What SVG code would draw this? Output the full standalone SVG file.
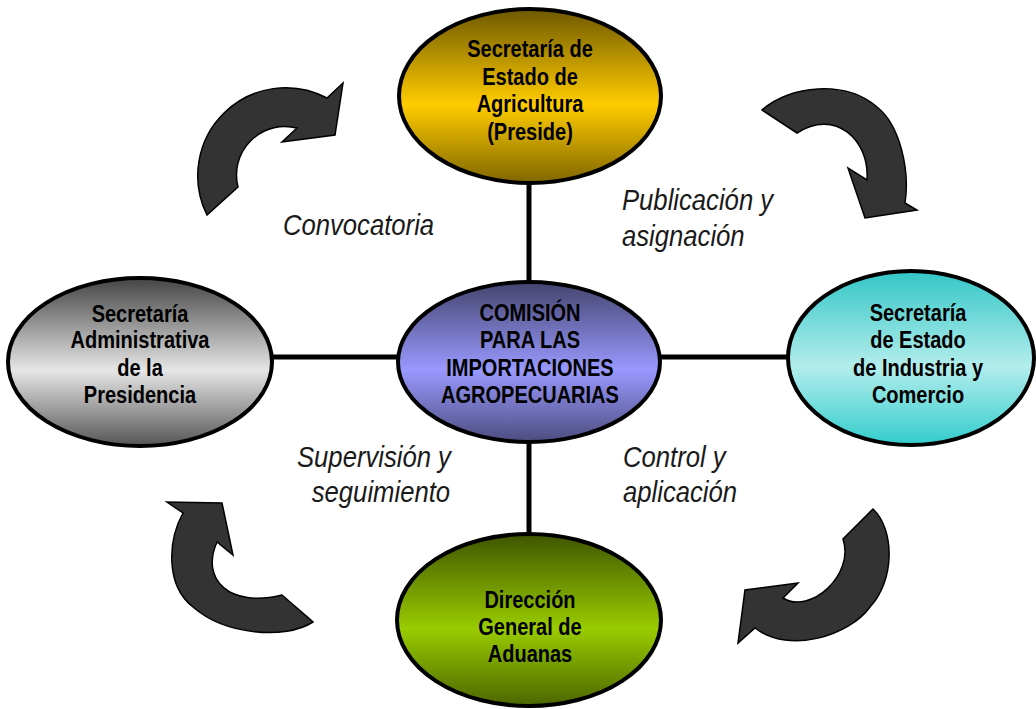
<svg xmlns="http://www.w3.org/2000/svg" width="1036" height="709" viewBox="0 0 1036 709">
<style>
.n{font-family:"Liberation Sans",Arial,sans-serif;font-weight:bold;font-size:23px;fill:#000;text-anchor:middle}
.l{font-family:"Liberation Sans",Arial,sans-serif;font-style:italic;font-size:29.5px;fill:#1a1a1a}
.e{stroke:#000;stroke-width:4}
.c{stroke:#000;stroke-width:5;fill:none}
.a{fill:#333;stroke:#000;stroke-width:1.5;stroke-linejoin:miter}
</style>
<defs>
<linearGradient id="gy" x1="0" y1="0" x2="0" y2="1"><stop offset="0" stop-color="#6e5800"/><stop offset="0.55" stop-color="#ffcc00"/><stop offset="1" stop-color="#806600"/></linearGradient>
<linearGradient id="gp" x1="0" y1="0" x2="0" y2="1"><stop offset="0" stop-color="#44446e"/><stop offset="0.55" stop-color="#9999ff"/><stop offset="1" stop-color="#4d4d80"/></linearGradient>
<linearGradient id="gg" x1="0" y1="0" x2="0" y2="1"><stop offset="0" stop-color="#444"/><stop offset="0.55" stop-color="#e6e6e6"/><stop offset="1" stop-color="#555"/></linearGradient>
<linearGradient id="gt" x1="0" y1="0" x2="0" y2="1"><stop offset="0" stop-color="#33c6c6"/><stop offset="0.55" stop-color="#b3eded"/><stop offset="1" stop-color="#33cccc"/></linearGradient>
<linearGradient id="gv" x1="0" y1="0" x2="0" y2="1"><stop offset="0" stop-color="#3f5500"/><stop offset="0.55" stop-color="#99cc00"/><stop offset="1" stop-color="#4c6600"/></linearGradient>
</defs>
<rect width="1036" height="709" fill="#fff"/>
<g id="connectors">
<line class="c" x1="529" y1="180" x2="529" y2="285"/>
<line class="c" x1="529" y1="440" x2="529" y2="536"/>
<line class="c" x1="268" y1="357" x2="400" y2="357"/>
<line class="c" x1="658" y1="357" x2="790" y2="357"/>
</g>
<g id="agricultura">
<ellipse class="e" cx="530" cy="96" rx="131" ry="87" fill="url(#gy)"/>
<text class="n" transform="matrix(0.87 0 0 1 530 0)"><tspan x="0" y="57">Secretaría de</tspan><tspan x="0" y="85">Estado de</tspan><tspan x="0" y="112">Agricultura</tspan><tspan x="0" y="140">(Preside)</tspan></text>
</g>
<g id="comision">
<ellipse class="e" cx="529" cy="362" rx="131" ry="80" fill="url(#gp)"/>
<text class="n" transform="matrix(0.87 0 0 1 530 0)"><tspan x="0" y="321">COMISIÓN</tspan><tspan x="0" y="348">PARA LAS</tspan><tspan x="0" y="376">IMPORTACIONES</tspan><tspan x="0" y="403">AGROPECUARIAS</tspan></text>
</g>
<g id="presidencia">
<ellipse class="e" cx="140" cy="362" rx="132" ry="84" fill="url(#gg)"/>
<text class="n" transform="matrix(0.87 0 0 1 140 0)"><tspan x="0" y="322">Secretaría</tspan><tspan x="0" y="348">Administrativa</tspan><tspan x="0" y="376">de la</tspan><tspan x="0" y="403">Presidencia</tspan></text>
</g>
<g id="industria">
<ellipse class="e" cx="911" cy="358" rx="123" ry="87" fill="url(#gt)"/>
<text class="n" transform="matrix(0.87 0 0 1 918 0)"><tspan x="0" y="321">Secretaría</tspan><tspan x="0" y="348">de Estado</tspan><tspan x="0" y="376">de Industria y</tspan><tspan x="0" y="403">Comercio</tspan></text>
</g>
<g id="aduanas">
<ellipse class="e" cx="529" cy="620" rx="132" ry="86" fill="url(#gv)"/>
<text class="n" transform="matrix(0.87 0 0 1 530 0)"><tspan x="0" y="608">Dirección</tspan><tspan x="0" y="635">General de</tspan><tspan x="0" y="662">Aduanas</tspan></text>
</g>
<g id="labels">
<text class="l" transform="matrix(0.87 0 0 1 283 0)"><tspan x="0" y="235">Convocatoria</tspan></text>
<text class="l" transform="matrix(0.87 0 0 1 622 0)"><tspan x="0" y="210">Publicación y</tspan><tspan x="0" y="246">asignación</tspan></text>
<text class="l" transform="matrix(0.87 0 0 1 297 0)"><tspan x="0" y="467">Supervisión y</tspan><tspan x="17" y="502">seguimiento</tspan></text>
<text class="l" transform="matrix(0.87 0 0 1 623 0)"><tspan x="0" y="467">Control y</tspan><tspan x="0" y="502">aplicación</tspan></text>
</g>
<g id="arrows">
<path class="a" d="M207,215 A88 88 0 0 1 327,98 L343,83 L335,135 L282,142 L297,128 A48.5 48.5 0 0 0 238,187 Z"/>
<path class="a" d="M762,110 C790,85 845,80 877,107 C900,125 910,170 905,203 L917,210 L865,218 L848,168 L867,180 C870,140 835,108 797,133 Z"/>
<path class="a" d="M313,622 C285,640 225,635 193,607 C165,585 168,540 183,513 L167,502 L222,503 L233,555 L217,542 C200,580 230,608 282,595 Z"/>
<path class="a" d="M873,509 C895,530 895,580 870,607 C850,635 790,655 755,628 L738,643 L745,590 L798,583 L783,598 C810,615 855,575 843,539 Z"/>
</g>
</svg>
